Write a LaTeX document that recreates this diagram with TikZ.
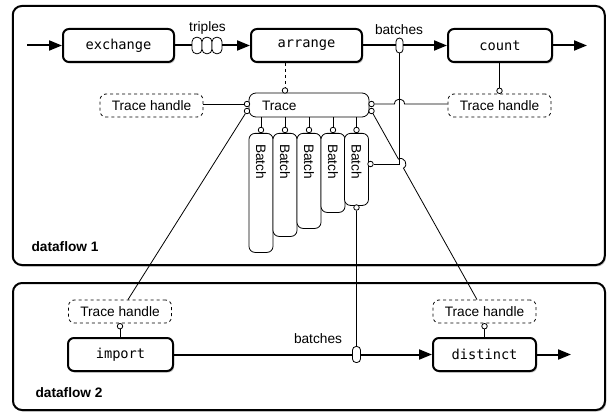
\documentclass[tikz,border=0pt]{standalone}
\usepackage{fontspec}
\setmainfont{Liberation Sans}
\newfontfamily\opfont{DejaVu Sans Mono}
\usetikzlibrary{arrows.meta,shadows,calc}
\begin{document}
\begin{tikzpicture}[x=1pt,y=-1pt,
  font=\fontsize{13.7}{16}\selectfont,
  shad/.style={drop shadow={shadow xshift=1.2pt,shadow yshift=-1.6pt,opacity=0.45}},
  frame/.style={draw, line width=2pt, rounded corners=9pt, fill=white, shad, inner sep=0pt},
  op/.style={draw, line width=2pt, rounded corners=6pt, fill=white, shad, minimum height=33pt, inner sep=0pt, font=\opfont\fontsize{13.7}{16}\selectfont},
  handle/.style={draw, dashed, line width=0.8pt, rounded corners=6pt, minimum width=103pt, minimum height=23pt, inner sep=0pt, fill=white},
  fine/.style={line width=0.8pt},
  port/.style={circle, draw, line width=0.8pt, fill=white, inner sep=0pt, minimum size=5.5pt},
  batchbox/.style={draw, line width=0.8pt, rounded corners=6pt, fill=white, minimum width=24pt, inner sep=0pt, anchor=north},
  pill/.style={draw, line width=0.8pt, rounded corners=3.5pt, fill=white, inner sep=0pt},
  flow/.style={line width=2pt, -{Triangle[length=13pt,width=10pt]}},
  wire/.style={line width=2pt},
]
\useasboundingbox (0,0) rectangle (607,414);

% frames
\node[frame, minimum width=592pt, minimum height=259pt] (df1) at (308.75,135.5) {};
\node[frame, minimum width=592pt, minimum height=127pt] (df2) at (309,346.5) {};
\node[anchor=west, font=\bfseries\fontsize{13.7}{16}\selectfont] (lab1) at (28,247) {dataflow 1};
\node[anchor=west, font=\bfseries\fontsize{13.7}{16}\selectfont] (lab2) at (32,393) {dataflow 2};

% operators
\node[op, minimum width=111pt] (exchange) at (118.5,45.5) {exchange};
\node[op, minimum width=111pt] (arrange) at (306.5,45.5) {arrange};
\node[op, minimum width=104pt] (count) at (500,45.5) {count};
\node[op, minimum width=105pt] (import) at (120.5,354.5) {import};
\node[op, minimum width=103pt] (distinct) at (484.5,354.5) {distinct};

% trace handles
\node[handle] (th1) at (151.5,105.5) {Trace handle};
\node[handle] (th2) at (499.5,105.5) {Trace handle};
\node[handle] (th3) at (120,311.5) {Trace handle};
\node[handle] (th4) at (484.5,311.5) {Trace handle};

% trace
\node[draw, fine, rounded corners=7pt, minimum width=120pt, minimum height=24pt, fill=white, inner sep=0pt] (trace) at (309,105) {};
\node[anchor=west] (tracelab) at (258.5,105.5) {Trace};

% batches
\node[batchbox, minimum height=119pt] (b1) at (261,133) {};
\node[batchbox, minimum height=103pt] (b2) at (285,133) {};
\node[batchbox, minimum height=95pt] (b3) at (309,133) {};
\node[batchbox, minimum height=79pt] (b4) at (333,133) {};
\node[batchbox, minimum height=72pt] (b5) at (356.5,133) {};
\foreach \b in {b1,b2,b3,b4,b5}{
  \node[rotate=-90, anchor=west, inner sep=0pt] (\b lab) at ($(\b.north)+(0,11)$) {Batch};
}

% ports
\node[port] (ptop) at (285,90.5) {};
\node[port] (pl1) at (247,104) {};
\node[port] (pl2) at (247,111) {};
\node[port] (pr1) at (371.5,104) {};
\node[port] (pr2) at (371.5,111) {};
\foreach \b/\q in {b1/q1,b2/q2,b3/q3,b4/q4,b5/q5}{
  \node[port] (\q) at ($(\b.north)+(0,-3)$) {};
  \draw[fine] (trace.south -| \q) -- (\q);
}
\node[port] (p5r) at (370.5,164) {};
\node[port] (p5b) at (356.5,207.5) {};
\node[port] (pc) at (499.5,90.8) {};
\node[port] (pt3) at (120,326.2) {};
\node[port] (pt4) at (484.5,326.2) {};

% pills
\node[pill, minimum width=10pt, minimum height=16.5pt, rounded corners=4.5pt] (tp1) at (197,45.5) {};
\node[pill, minimum width=10pt, minimum height=16.5pt, rounded corners=4.5pt] (tp2) at (207,45.5) {};
\node[pill, minimum width=10pt, minimum height=16.5pt, rounded corners=4.5pt] (tp3) at (217,45.5) {};
\node[pill, minimum width=7pt, minimum height=15pt] (bp1) at (399.5,45.5) {};
\node[pill, minimum width=8pt, minimum height=16pt] (bp2) at (356.5,354.5) {};

% labels
\node (triples) at (207.5,28) {triples};
\node (batches1) at (399,30) {batches};
\node (batches2) at (318,339) {batches};

% main flows
\coordinate (in1) at (27,45.5);
\coordinate (out1) at (587,45.5);
\coordinate (out2) at (571,354.5);
\draw[flow] (in1) -- (exchange.west);
\draw[wire] (exchange.east) -- (tp1.west);
\draw[flow] (tp3.east) -- (arrange.west);
\draw[wire] (arrange.east) -- (bp1.west);
\draw[flow] (bp1.east) -- (count.west);
\draw[flow] (count.east) -- (out1);
\draw[wire] (import.east) -- (bp2.west);
\draw[flow] (bp2.east) -- (distinct.west);
\draw[flow] (distinct.east) -- (out2);

% thin connections
\draw[fine, dashed] (arrange.south -| ptop) -- (ptop);
\draw[fine] (count.south -| pc) -- (pc);
\draw[fine] (th1.east |- pl1) -- (pl1);
\draw[fine] (pt3) -- (import.north -| pt3);
\draw[fine] (pt4) -- (distinct.north -| pt4);
\draw[fine] (bp1.south) -- (bp1.south |- p5r) -- (p5r);
\draw[fine] (p5b) -- (bp2.north);

% horizontal with hop
\coordinate (hopA) at ($(bp1.south |- pr1)+(-5,0)$);
\coordinate (hopB) at ($(bp1.south |- pr1)+(5,0)$);
\draw[fine] (pr1) -- (hopA) .. controls ($(hopA)+(0,-6.5)$) and ($(hopB)+(0,-6.5)$) .. (hopB) -- (pr1 -| th2.west);

% diagonals
\coordinate (d1end) at ($(th3.north)+(8,0)$);
\draw[fine] (pl2) -- (d1end);
\coordinate (d2end) at ($(th4.north)+(-7.5,0)$);
\coordinate (h1) at ($(pr2)!0.255!(d2end)$);
\coordinate (h2) at ($(pr2)!0.303!(d2end)$);
\coordinate (c1) at ($(h1)!6.5pt!90:(h2)$);
\coordinate (c2) at ($(h2)!6.5pt!-90:(h1)$);
\draw[fine] (pr2) -- (h1) .. controls (c1) and (c2) .. (h2) -- (d2end);
\end{tikzpicture}
\end{document}
